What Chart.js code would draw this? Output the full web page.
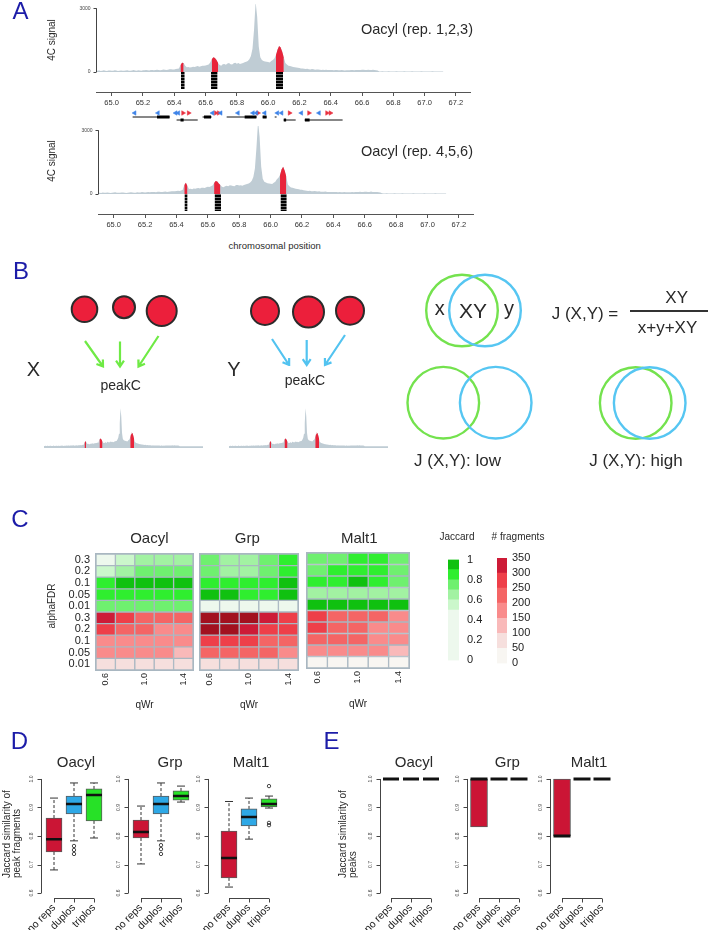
<!DOCTYPE html>
<html>
<head>
<meta charset="utf-8">
<title>peakC replicate consistency</title>
<script src="https://cdn.jsdelivr.net/npm/chart.js@4.4.1/dist/chart.umd.min.js"></script>
<style>
  html, body { margin: 0; padding: 0; background: #fff; }
  #page { position: relative; width: 708px; height: 930px; overflow: hidden;
          font-family: "Liberation Sans", Arial, Helvetica, sans-serif; color: #2a2a2a; }
  #page canvas { position: absolute; }
  .t { position: absolute; white-space: nowrap; line-height: 1; transform: translate(-50%, -50%); }
  .t.rot { transform: translate(-50%, -50%) rotate(-90deg); }
  .t.letter { color: #1c1ca8; }
  .ylab { position: absolute; white-space: pre; line-height: 10px; font-size: 10px;
          transform: rotate(-90deg); transform-origin: 0 0; }
  .frac { position: absolute; left: 630px; top: 310px; width: 78px; height: 2px; background: #333; }
</style>
</head>
<body>
<div id="page"><div class="frac"></div></div>
<script>
// ---------- panel A : 4C signal (bins of 0.01 Mb from 64.90) ----------
const binStart = 64.90;
const binSize = 0.01;
const chromTicks = [65.0, 65.2, 65.4, 65.6, 65.8, 66.0, 66.2, 66.4, 66.6, 66.8, 67.0, 67.2];

const signalRep123 = [
  60,55,70,50,65,80,60,45,70,75,55,60,85,70,50,60,75,65,55,70,80,60,65,75,90,70,60,80,75,65,85,
  80,95,85,70,90,100,85,95,110,90,80,100,120,105,95,110,125,130,115,120,140,150,160,
  330,440,430,300,
  220,240,210,230,250,235,260,280,250,270,300,290,310,330,350,
  450,600,690,660,560,420,
  330,300,360,380,340,400,420,370,350,410,440,390,420,380,400,430,460,
  480,520,600,750,1100,
  2000,3300,2600,1200,
  700,560,520,500,480,470,450,520,560,640,
  800,1050,1220,1150,950,700,
  420,350,300,280,260,240,230,210,200,190,
  170,160,150,140,150,130,120,140,125,110,120,115,105,100,110,95,105,100,90,95,100,85,90,95,80,85,90,80,75,85,
  80,85,90,95,85,90,100,95,90,105,110,100,95,110,100,90,105,95,85,70,
  30,25,35,30,25,30,35,25,30,20,30,35,25,30,30,25,35,30,25,20,30,35,30,25,30,25,30,35,30,25,30,20,25,30,35,30,25,30,25,20,30,25
];
const signalRep456 = [
  55,65,50,70,60,55,75,65,50,60,70,80,60,55,65,75,70,60,50,65,75,85,70,60,65,80,70,75,90,80,70,
  85,90,80,95,100,90,85,105,110,95,90,110,115,100,105,120,130,125,135,140,150,145,170,
  200,420,530,380,
  240,250,230,260,245,270,280,260,290,300,280,320,340,330,360,
  400,520,610,590,500,430,
  340,320,370,390,360,410,400,380,360,420,430,400,410,390,420,450,470,
  500,540,620,800,1200,
  2200,3400,2700,1300,
  720,580,540,510,490,480,470,530,580,700,
  760,900,1150,1280,1100,820,
  450,370,310,290,270,250,235,220,205,195,
  175,165,150,145,155,135,125,140,130,115,125,110,110,105,115,100,100,95,95,100,95,90,85,95,85,80,90,85,80,80,
  85,90,85,100,90,95,105,100,95,110,105,100,100,115,95,95,100,90,80,70,
  35,30,30,35,25,30,30,25,35,25,30,30,25,35,30,25,30,30,25,25,35,30,30,25,30,30,25,35,30,25,30,25,30,30,35,25,30,25,30,25,30,25
];
const peakStart123 = [65.44, 65.635, 66.05];
const peakEnd123 = [65.46, 65.68, 66.10];
const peakStart456 = [65.45, 65.64, 66.06];
const peakEnd456 = [65.47, 65.68, 66.10];
const fragStart123 = [65.443, 65.635, 66.05];
const fragEnd123 = [65.467, 65.677, 66.095];
const fragStart456 = [65.451, 65.643, 66.063];
const fragEnd456 = [65.471, 65.684, 66.103];
const fragDepth = 800;

// genes between the two tracks
const tssMinus = [65.147, 65.296, 65.409, 65.426, 65.645, 65.697, 65.807, 65.903, 65.925, 65.978, 66.059, 66.086, 66.212, 66.325];
const tssPlus = [65.456, 65.492, 65.665, 65.684, 65.935, 66.137, 66.261, 66.376, 66.398];
const geneStart = [65.134, 65.415, 65.581, 65.735, 65.965, 66.042, 66.099, 66.233];
const geneEnd = [65.371, 65.55, 65.639, 65.927, 65.99, 66.054, 66.176, 66.476];
const geneRow = [1.75, 1.0, 1.75, 1.75, 1.75, 1.75, 1.0, 1.0];
const exonStart = [65.29, 65.44, 65.59, 65.85, 65.965, 66.10, 66.235];
const exonEnd = [65.37, 65.46, 65.635, 65.925, 65.99, 66.115, 66.265];
const exonRow = [1.75, 1.0, 1.75, 1.75, 1.75, 1.0, 1.0];

// ---------- panel B : schematic ----------
const repX = [84.5, 124, 161.7, 265, 308.5, 350];
const repY = [309.3, 307.3, 311, 311, 312, 310.7];
const repSize = [12.8, 11, 15, 14, 15.5, 14];
const arrowsX = [[85, 341, 103, 366.5], [120, 341.5, 120, 366.5], [158.5, 336, 138.5, 366.5]];
const arrowsY = [[272, 339, 289, 365], [306.7, 340, 306.7, 365], [345, 335, 325, 365]];
const vennGreen = [[462, 310.5], [443.3, 402.7], [635.7, 403]];
const vennBlue = [[485, 310.5], [495.7, 402.7], [649.7, 403]];
const vennSize = 35.8;

// ---------- panel C : heatmaps ----------
const qWr = ['0.6', '0.8', '1.0', '1.2', '1.4'];
const qWrShown = ['0.6', '', '1.0', '', '1.4'];
const alphaFDR = ['0.3', '0.2', '0.1', '0.05', '0.01'];
const jaccardOacyl = [[0.45,0.55,0.65,0.65,0.65],[0.55,0.65,0.75,0.75,0.75],[0.85,0.95,0.95,0.95,0.95],[0.85,0.85,0.85,0.85,0.85],[0.75,0.75,0.75,0.75,0.75]];
const jaccardGrp = [[0.75,0.65,0.65,0.75,0.85],[0.75,0.65,0.65,0.75,0.85],[0.85,0.85,0.85,0.85,0.95],[0.95,0.95,0.85,0.85,0.95],[0.45,0.45,0.45,0.45,0.45]];
const jaccardMalt1 = [[0.75,0.75,0.85,0.85,0.75],[0.75,0.85,0.85,0.85,0.75],[0.85,0.85,0.95,0.85,0.75],[0.65,0.65,0.65,0.65,0.65],[0.95,0.95,0.95,0.95,0.95]];
const fragsOacyl = [[325,275,225,225,225],[275,225,225,175,175],[175,175,175,175,175],[175,175,175,175,125],[75,75,75,75,75]];
const fragsGrp = [[375,375,375,325,275],[375,375,325,275,275],[275,275,275,225,225],[225,225,225,225,175],[75,75,75,75,75]];
const fragsMalt1 = [[275,225,225,225,175],[275,225,225,175,175],[225,225,225,175,175],[175,175,175,175,125],[25,25,25,25,25]];
const jaccardBreaks = [0, 0.5, 0.6, 0.7, 0.8, 0.9, 1.0];
const jaccardColors = ['#edf8ed', '#cbf7cb', '#a2f2a2', '#6ff06f', '#2fee2f', '#10c110'];
const jaccardTicks = [0, 0.2, 0.4, 0.6, 0.8, 1];
const fragBreaks = [0, 50, 100, 150, 200, 250, 300, 350, 400];
const fragColors = ['#f8f6f2', '#f6dfdd', '#f9b9b9', '#f98b8b', '#f46565', '#ee3f49', '#cd1b37', '#a2111f'];
const fragTicks = [0, 50, 100, 150, 200, 250, 300, 350];
const cellLine = '#a9b7c1';

// ---------- panels D, E : boxplots [lowWhisker, q1, median, q3, highWhisker] ----------
const groups = ['no reps', 'duplos', 'triplos'];
const boxColors = ['#cb1535', '#2ea8e6', '#27e127'];
const jacTicks = [0.6, 0.7, 0.8, 0.9, 1.0];
const jacTickLabels = ['0.6', '0.7', '0.8', '0.9', '1.0'];
const fragJacOacyl = [[0.681,0.744,0.789,0.863,0.933],[0.783,0.877,0.912,0.940,0.986],[0.793,0.853,0.944,0.965,0.986]];
const fragJacGrp = [[0.702,0.793,0.814,0.856,0.905],[0.783,0.877,0.912,0.940,0.986],[0.919,0.926,0.940,0.958,0.975]];
const fragJacMalt1 = [[0.621,0.653,0.723,0.817,0.921],[0.789,0.835,0.867,0.895,0.933],[0.898,0.902,0.912,0.930,0.940]];
const fragOutOacyl = [[], [0.765, 0.751, 0.737], []];
const fragOutGrp = [[], [0.768, 0.754, 0.737], []];
const fragOutMalt1 = [[], [], [0.975, 0.846, 0.838]];
const peakJacOacyl = [[1,1,1,1,1],[1,1,1,1,1],[1,1,1,1,1]];
const peakJacGrp = [[0.832,0.832,1,1,1],[1,1,1,1,1],[1,1,1,1,1]];
const peakJacMalt1 = [[0.8,0.8,0.8,1,1],[1,1,1,1,1],[1,1,1,1,1]];
const noOutliers = [[], [], []];

// ---------- setup ----------
const FONT = '"Liberation Sans", Arial, Helvetica, sans-serif';
Chart.defaults.font.family = FONT;
Chart.defaults.color = '#333';
Chart.defaults.animation = false;
Chart.defaults.responsive = false;
Chart.defaults.events = [];
Chart.defaults.layout.autoPadding = false;
Chart.defaults.plugins.legend.display = false;
Chart.defaults.plugins.tooltip.enabled = false;

const page = document.getElementById('page');

function canvasAt(left, top, w, h) {
  const c = document.createElement('canvas');
  c.width = w; c.height = h;
  c.style.left = left + 'px'; c.style.top = top + 'px';
  c.style.width = w + 'px'; c.style.height = h + 'px';
  page.appendChild(c);
  return c;
}

function label(text, x, y, size, cls) {
  const d = document.createElement('div');
  d.className = 't' + (cls ? ' ' + cls : '');
  d.textContent = text;
  d.style.left = x + 'px'; d.style.top = y + 'px'; d.style.fontSize = size + 'px';
  page.appendChild(d);
}

function yLabel2(line1, line2, left, bottom) {
  const d = document.createElement('div');
  d.className = 'ylab';
  d.textContent = line1 + '\n' + line2;
  d.style.left = left + 'px'; d.style.top = bottom + 'px';
  page.appendChild(d);
}

// R-like axes: line only between first and last tick
const rAxis = {
  id: 'rAxis',
  afterDatasetsDraw(chart, args, o) {
    const {ctx, chartArea: a} = chart;
    ctx.save();
    ctx.lineWidth = 1;
    ctx.strokeStyle = o.color || '#444';
    ctx.fillStyle = o.color || '#444';
    if (o.y) {
      const ys = chart.scales.y, x0 = Math.round(a.left) + 0.5;
      ctx.beginPath();
      ctx.moveTo(x0, ys.getPixelForValue(o.y.from));
      ctx.lineTo(x0, ys.getPixelForValue(o.y.to));
      o.y.ticks.forEach(v => {
        const p = Math.round(ys.getPixelForValue(v)) + 0.5;
        ctx.moveTo(x0, p); ctx.lineTo(x0 - o.y.len, p);
      });
      ctx.stroke();
      ctx.font = o.y.size + 'px ' + FONT;
      ctx.textBaseline = 'middle';
      o.y.ticks.forEach((v, i) => {
        const p = ys.getPixelForValue(v);
        if (o.y.rotate) {
          ctx.save(); ctx.translate(x0 - o.y.gap, p); ctx.rotate(-Math.PI / 2);
          ctx.textAlign = 'center'; ctx.fillText(o.y.labels[i], 0, 0); ctx.restore();
        } else {
          ctx.textAlign = 'right'; ctx.fillText(o.y.labels[i], x0 - o.y.gap, p);
        }
      });
    }
    if (o.x) {
      const xs = chart.scales.x, y0 = Math.round(a.bottom) + 0.5;
      ctx.beginPath();
      ctx.moveTo(xs.getPixelForValue(o.x.from), y0);
      ctx.lineTo(xs.getPixelForValue(o.x.to), y0);
      o.x.ticks.forEach(v => {
        const p = Math.round(xs.getPixelForValue(v)) + 0.5;
        ctx.moveTo(p, y0); ctx.lineTo(p, y0 + o.x.len);
      });
      ctx.stroke();
    }
    if (o.frame) {
      ctx.strokeStyle = o.frame;
      ctx.strokeRect(Math.round(a.left) - 0.5, Math.round(a.top) - 0.5, Math.round(a.width) + 1, Math.round(a.height) + 1);
    }
    ctx.restore();
  }
};

// striped black for fragment blocks
const tile = document.createElement('canvas');
tile.width = 4; tile.height = 3;
const tctx = tile.getContext('2d');
tctx.fillStyle = '#000'; tctx.fillRect(0, 0, 4, 3);
tctx.fillStyle = '#707070'; tctx.fillRect(0, 2, 4, 1);
const stripes = tctx.createPattern(tile, 'repeat');

const binPos = signalRep123.map((_, i) => +(binStart + i * binSize).toFixed(2));

function signalDatasets(signal, pStart, pEnd, fillTo) {
  const inPeak = x => pStart.some((s, k) => x >= s - 1e-6 && x <= pEnd[k] + 1e-6);
  return [
    {data: signal.map((v, i) => ({x: binPos[i], y: inPeak(binPos[i]) ? v : null})),
     backgroundColor: '#e8243a', borderColor: 'transparent', borderWidth: 0, pointRadius: 0,
     fill: fillTo, spanGaps: false},
    {data: signal.map((v, i) => ({x: binPos[i], y: v})),
     backgroundColor: '#bfccd4', borderColor: 'transparent', borderWidth: 0, pointRadius: 0, fill: fillTo}
  ];
}

function fragDatasets(fs, fe) {
  return fs.map((s, k) => ({
    data: [{x: s, y: -fragDepth}, {x: fe[k], y: -fragDepth}],
    backgroundColor: stripes, borderColor: 'transparent', borderWidth: 0, pointRadius: 0, fill: 'origin'
  }));
}

function chromAxis() {
  return {
    type: 'linear', min: 64.9, max: 67.29,
    afterBuildTicks: s => { s.ticks = chromTicks.map(v => ({value: v})); },
    afterFit: s => { s.height = 18; },
    grid: {drawOnChartArea: false, drawTicks: true, tickLength: 4, color: '#555'},
    border: {display: true, color: '#555'},
    ticks: {callback: v => v.toFixed(1), font: {size: 7.5}, color: '#333', padding: 2, maxRotation: 0, autoSkip: false}
  };
}

function signalChart(canvas, signal, pS, pE, fS, fE, padLeft, padTop) {
  new Chart(canvas, {
    type: 'line',
    data: {datasets: [...signalDatasets(signal, pS, pE, 'origin'), ...fragDatasets(fS, fE)]},
    options: {
      layout: {padding: {left: padLeft, right: 10, top: padTop, bottom: 0}},
      scales: {x: chromAxis(), y: {display: false, min: -940, max: 3200}},
      plugins: {rAxis: {color: '#444', y: {from: 0, to: 3000, ticks: [0, 3000], labels: ['0', '3000'], len: 3, gap: 6, size: 5}}}
    },
    plugins: [rAxis]
  });
}

signalChart(canvasAt(0, 0, 480, 110), signalRep123, peakStart123, peakEnd123, fragStart123, fragEnd123, 96, 4);
signalChart(canvasAt(0, 120, 483, 112), signalRep456, peakStart456, peakEnd456, fragStart456, fragEnd456, 98, 6);

function segments(st, en, row) {
  const out = [];
  st.forEach((s, k) => { out.push({x: s, y: row[k]}, {x: en[k], y: row[k]}, {x: en[k], y: null}); });
  return out;
}

new Chart(canvasAt(0, 108, 480, 16), {
  type: 'scatter',
  data: {datasets: [
    {data: tssMinus.map(x => ({x, y: 2.75})), pointStyle: 'triangle', pointRotation: -90, pointRadius: 2.6,
     pointBackgroundColor: '#3d83e8', pointBorderColor: '#3d83e8', pointBorderWidth: 0.5},
    {data: tssPlus.map(x => ({x, y: 2.75})), pointStyle: 'triangle', pointRotation: 90, pointRadius: 2.6,
     pointBackgroundColor: '#e8303f', pointBorderColor: '#e8303f', pointBorderWidth: 0.5},
    {type: 'line', data: segments(exonStart, exonEnd, exonRow), borderColor: '#000', borderWidth: 3, pointRadius: 0, spanGaps: false},
    {type: 'line', data: segments(geneStart, geneEnd, geneRow), borderColor: '#111', borderWidth: 1, pointRadius: 0, spanGaps: false}
  ]},
  options: {
    layout: {padding: {left: 96, right: 10, top: 0, bottom: 0}},
    scales: {x: {display: false, min: 64.9, max: 67.29}, y: {display: false, min: 0, max: 4}}
  }
});

// ---------- panel B ----------
function arrowPath(x0, y0, x1, y1) {
  const a = Math.atan2(y1 - y0, x1 - x0), len = 7, spread = 0.6;
  return [
    {x: x0, y: y0}, {x: x1, y: y1}, {x: x1, y: null},
    {x: x1 - len * Math.cos(a - spread), y: y1 - len * Math.sin(a - spread)},
    {x: x1, y: y1},
    {x: x1 - len * Math.cos(a + spread), y: y1 - len * Math.sin(a + spread)},
    {x: x1, y: null}
  ];
}

new Chart(canvasAt(0, 265, 708, 235), {
  type: 'bubble',
  data: {datasets: [
    {data: vennBlue.map(([x, y]) => ({x, y, r: vennSize})), backgroundColor: 'rgba(0,0,0,0)', borderColor: '#56c6f2', borderWidth: 2.4},
    {data: vennGreen.map(([x, y]) => ({x, y, r: vennSize})), backgroundColor: 'rgba(0,0,0,0)', borderColor: '#74e24e', borderWidth: 2.4},
    {data: repX.map((x, i) => ({x, y: repY[i], r: repSize[i]})), backgroundColor: '#ec1f3b', borderColor: '#2b2b2b', borderWidth: 2},
    {type: 'line', data: arrowsX.flatMap(a => arrowPath(...a)), borderColor: '#6fea45', borderWidth: 2.2, pointRadius: 0, spanGaps: false},
    {type: 'line', data: arrowsY.flatMap(a => arrowPath(...a)), borderColor: '#52c3f0', borderWidth: 2.2, pointRadius: 0, spanGaps: false}
  ]},
  options: {
    layout: {padding: 0, autoPadding: false},
    scales: {x: {display: false, min: 0, max: 708}, y: {display: false, min: 265, max: 500, reverse: true}}
  }
});

function miniTrack(left) {
  new Chart(canvasAt(left, 400, 162, 48), {
    type: 'line',
    data: {datasets: signalDatasets(signalRep123, peakStart123, peakEnd123, {value: -120})},
    options: {
      layout: {padding: {top: 7}},
      scales: {x: {type: 'linear', display: false, min: 64.86, max: 67.02}, y: {display: false, min: -120, max: 3400}}
    }
  });
}
miniTrack(41);
miniTrack(226);

// ---------- panel C ----------
const rowLabels = alphaFDR.concat(alphaFDR);
const rowCenters = rowLabels.map((_, i) => i + 0.5);

function levelColor(v, breaks, colors) {
  for (let k = 0; k < colors.length; k++) if (v < breaks[k + 1]) return colors[k];
  return colors[colors.length - 1];
}

function heatmap(canvas, jac, frag, o) {
  const rows = jac.map(r => r.map(v => levelColor(v, jaccardBreaks, jaccardColors)))
    .concat(frag.map(r => r.map(v => levelColor(v, fragBreaks, fragColors))));
  new Chart(canvas, {
    type: 'bar',
    data: {labels: qWr, datasets: rows.map((cols, i) => ({
      data: qWr.map(() => [i, i + 1]), backgroundColor: cols, borderColor: cellLine, borderWidth: 1,
      borderSkipped: false, grouped: false, barPercentage: 1, categoryPercentage: 1
    }))},
    options: {
      layout: {padding: {left: o.left, right: o.right, top: o.top, bottom: 0}},
      scales: {
        x: {grid: {display: false, drawTicks: false}, border: {display: false},
            ticks: {autoSkip: false, minRotation: 90, maxRotation: 90, padding: 3, font: {size: 9}, color: '#222',
                    callback: (v, i) => qWrShown[i]},
            title: {display: true, text: 'qWr', font: {size: 10}, color: '#222', padding: {top: 0, bottom: 4}},
            afterFit: s => { s.height = o.xh; }},
        y: {type: 'linear', min: 0, max: 10, reverse: true, display: o.rowLabels,
            grid: {display: false, drawTicks: false}, border: {display: false},
            afterBuildTicks: s => { s.ticks = rowCenters.map(v => ({value: v})); },
            ticks: {autoSkip: false, padding: 6, font: {size: 11}, color: '#222', callback: (v, i) => rowLabels[i]},
            afterFit: s => { s.width = o.rowLabels ? 96 : 0; }}
      },
      plugins: {rAxis: {frame: cellLine}}
    },
    plugins: [rAxis]
  });
}

heatmap(canvasAt(0, 540, 200, 175), jaccardOacyl, fragsOacyl, {left: 0, right: 7, top: 14, xh: 45, rowLabels: true});
heatmap(canvasAt(190, 540, 115, 175), jaccardGrp, fragsGrp, {left: 10, right: 7, top: 14, xh: 45, rowLabels: false});
heatmap(canvasAt(297, 539, 120, 175), jaccardMalt1, fragsMalt1, {left: 10, right: 8, top: 14, xh: 46, rowLabels: false});

function colorBar(canvas, breaks, colors, ticks, o) {
  new Chart(canvas, {
    type: 'bar',
    data: {labels: [''], datasets: colors.map((c, k) => ({
      data: [[breaks[k], breaks[k + 1]]], backgroundColor: c, borderWidth: 0,
      grouped: false, barPercentage: 1, categoryPercentage: 1
    }))},
    options: {
      layout: {padding: {left: o.left, right: 0, top: o.top, bottom: o.bottom}},
      scales: {
        x: {display: false},
        y: {position: 'right', min: breaks[0], max: breaks[colors.length],
            grid: {display: false, drawTicks: false}, border: {display: false},
            afterBuildTicks: s => { s.ticks = ticks.map(v => ({value: v})); },
            ticks: {autoSkip: false, padding: o.pad, font: {size: 11}, color: '#222', callback: v => String(v)},
            afterFit: s => { s.width = o.w; }}
      }
    }
  });
}

colorBar(canvasAt(440, 545, 60, 130), jaccardBreaks, jaccardColors, jaccardTicks, {left: 8, top: 10, bottom: 6, pad: 8, w: 41});
colorBar(canvasAt(490, 545, 60, 130), fragBreaks, fragColors.slice(0, 7), fragTicks, {left: 7, top: 13, bottom: 6, pad: 5, w: 43});

// ---------- panels D and E ----------
function boxplot(axisX, firstX, stats, outliers, boxW, medW) {
  const xmin = 1 - (firstX - axisX) / 20, xmax = 3.62;
  const areaW = (xmax - xmin) * 20;
  const w = Math.ceil(areaW + 48);
  const whisk = [], caps = [];
  stats.forEach((s, i) => {
    const x = i + 1;
    if (s[4] > s[3]) { whisk.push({x, y: s[3]}, {x, y: s[4]}, {x, y: null}); caps.push({x, y: s[4]}); }
    if (s[0] < s[1]) { whisk.push({x, y: s[1]}, {x, y: s[0]}, {x, y: null}); caps.push({x, y: s[0]}); }
  });
  new Chart(canvasAt(axisX - 40, 770, w, 160), {
    type: 'bar',
    data: {datasets: [
      {type: 'scatter', data: stats.map((s, i) => ({x: i + 1, y: s[2]})), pointStyle: 'line',
       pointRadius: boxW / 2, pointBorderWidth: medW, pointBorderColor: '#111'},
      {type: 'scatter', data: caps, pointStyle: 'line', pointRadius: boxW / 4, pointBorderWidth: 1, pointBorderColor: '#333'},
      {type: 'scatter', data: outliers.flatMap((list, i) => list.map(y => ({x: i + 1, y}))), pointStyle: 'circle',
       pointRadius: 1.7, pointBorderWidth: 0.9, pointBorderColor: '#333', pointBackgroundColor: 'rgba(0,0,0,0)'},
      {type: 'bar', data: stats.map((s, i) => ({x: i + 1, y: [s[1], s[3]]})), backgroundColor: boxColors,
       borderColor: '#5a5a5a', borderWidth: 1, borderSkipped: false, barThickness: boxW},
      {type: 'line', data: whisk, borderColor: '#333', borderWidth: 1, borderDash: [3, 2], pointRadius: 0, spanGaps: false}
    ]},
    options: {
      layout: {padding: {left: 40, right: w - 40 - areaW, top: 4.4, bottom: 0}},
      scales: {
        x: {type: 'linear', offset: false, min: xmin, max: xmax,
            grid: {display: false, drawTicks: false}, border: {display: false},
            afterBuildTicks: s => { s.ticks = [1, 2, 3].map(v => ({value: v})); },
            ticks: {autoSkip: false, minRotation: 45, maxRotation: 45, padding: 4, font: {size: 10.5}, color: '#222',
                    callback: (v, i) => groups[i]},
            afterFit: s => { s.height = 32.4; }},
        y: {display: false, min: 0.584, max: 1.016}
      },
      plugins: {rAxis: {color: '#444',
        y: {from: 0.6, to: 1.0, ticks: jacTicks, labels: jacTickLabels, len: 4, gap: 10, size: 5, rotate: true},
        x: {from: 1, to: 3, ticks: [1, 2, 3], len: 4}}}
    },
    plugins: [rAxis]
  });
}

boxplot(41, 54, fragJacOacyl, fragOutOacyl, 16, 2.5);
boxplot(128, 141, fragJacGrp, fragOutGrp, 16, 2.5);
boxplot(208, 229, fragJacMalt1, fragOutMalt1, 16, 2.5);
boxplot(380, 391, peakJacOacyl, noOutliers, 16, 3);
boxplot(467, 479, peakJacGrp, noOutliers, 17, 3);
boxplot(550, 562, peakJacMalt1, noOutliers, 17, 3);

// ---------- text ----------
label('A', 20.5, 11, 24, 'letter');
label('B', 21, 270.5, 24, 'letter');
label('C', 20, 519, 24, 'letter');
label('D', 19.5, 741, 24, 'letter');
label('E', 331.5, 741, 24, 'letter');

label('4C signal', 51.7, 40, 10, 'rot');
label('4C signal', 51.7, 161, 10, 'rot');
label('Oacyl (rep. 1,2,3)', 417, 29, 14.5);
label('Oacyl (rep. 4,5,6)', 417, 151, 14.5);
label('chromosomal position', 274.7, 245.7, 9.5);

label('X', 33.5, 369, 20);
label('Y', 234, 369, 20);
label('peakC', 120.7, 385, 14);
label('peakC', 305, 380, 14);
label('x', 439.7, 308.3, 20);
label('XY', 473, 310.3, 21);
label('y', 509, 308.3, 20);
label('J (X,Y) =', 585, 313, 17);
label('XY', 676.7, 296.7, 17);
label('x+y+XY', 667.5, 327, 17);
label('J (X,Y): low', 457.5, 460, 17);
label('J (X,Y): high', 636, 460, 17);

label('Oacyl', 149.3, 537, 15);
label('Grp', 247.3, 537, 15);
label('Malt1', 359.3, 537, 15);
label('alphaFDR', 51.7, 606, 10, 'rot');
label('Jaccard', 457, 537, 10);
label('# fragments', 518, 537, 10);

label('Oacyl', 76, 761, 15);
label('Grp', 170, 761, 15);
label('Malt1', 251, 761, 15);
label('Oacyl', 414, 761, 15);
label('Grp', 507.3, 761, 15);
label('Malt1', 589, 761, 15);
yLabel2('Jaccard similarity of', 'peak fragments', 1.5, 878);
yLabel2('Jaccard similarity of', 'peaks', 338, 878);
</script>
</body>
</html>
